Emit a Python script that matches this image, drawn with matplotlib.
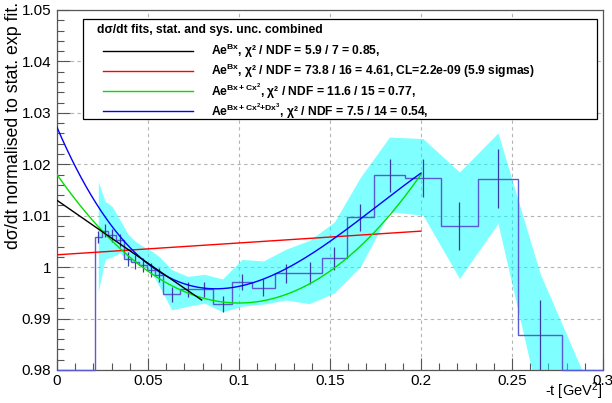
import numpy as np
import matplotlib
matplotlib.use("Agg")
import matplotlib.pyplot as plt
import matplotlib.ticker as ticker
from matplotlib.patches import Rectangle
from matplotlib.lines import Line2D

plt.rcParams["font.family"] = ["Liberation Sans", "DejaVu Sans"]
plt.rcParams["mathtext.fontset"] = "custom"
plt.rcParams["mathtext.rm"] = "Liberation Sans"
plt.rcParams["mathtext.it"] = "Liberation Sans:italic"
plt.rcParams["mathtext.bf"] = "Liberation Sans:bold"

# Гистограмма: границы бинов по -t, значения и стат. ошибки
bin_edges = [0.0209, 0.0245, 0.0283, 0.0324, 0.0368, 0.0409, 0.0453, 0.0497,
             0.0541, 0.0585, 0.0676, 0.0764, 0.0857, 0.0962, 0.1071, 0.1198,
             0.1319, 0.1456, 0.1593, 0.1742, 0.1912, 0.2110, 0.2313, 0.2533,
             0.2775]
bin_values = [1.0059, 1.0071, 1.0062, 1.0052, 1.0016, 1.0010, 1.0004, 0.9995,
              0.9985, 0.9947, 0.9957, 0.9957, 0.9928, 0.9971, 0.9960, 0.9988,
              0.9989, 1.0017, 1.0097, 1.0179, 1.0174, 1.0080, 1.0172, 0.9868]
bin_errors = [0.0012, 0.0013, 0.0013, 0.0013, 0.0013, 0.0013, 0.0014, 0.0014,
              0.0014, 0.0015, 0.0015, 0.0015, 0.0015, 0.0016, 0.0017, 0.0018,
              0.0021, 0.0023, 0.0026, 0.0032, 0.0037, 0.0046, 0.0057, 0.0068]

# Полоса стат.+сист. неопределённости (в центрах бинов + хвост)
band_extra_t = 0.289
band_upper = [1.0166, 1.0128, 1.0118, 1.0092, 1.0065, 1.0050, 1.0040, 1.0032,
              1.0020, 0.9995, 0.9982, 0.9986, 0.9977, 1.0015, 1.0012, 1.0035,
              1.0052, 1.0088, 1.0175, 1.0253, 1.0250, 1.0185, 1.0261, 0.9988,
              0.9795]
band_lower = [0.9952, 1.0015, 1.0020, 1.0028, 1.0013, 1.0008, 1.0003, 0.9990,
              0.9962, 0.9917, 0.9924, 0.9930, 0.9913, 0.9924, 0.9928, 0.9936,
              0.9929, 0.9950, 1.0001, 1.0108, 1.0101, 0.9978, 1.0085, 0.9730,
              0.9600]

# Параметры фитов: A, B, C, D и диапазон
fit_black = dict(p=[1.013, -0.2432, 0.0, 0.0], tmax=0.0795, color="black")
fit_red = dict(p=[1.0024, 0.0229, 0.0, 0.0], tmax=0.2, color="#ff0000")
fit_green = dict(p=[1.018, -0.497, 2.486, 0.0], tmax=0.2, color="#00e000")
fit_blue = dict(p=[1.0272, -0.80076, 6.1132, -11.636], tmax=0.2, color="#0000ff")

legend_header = "dσ/dt fits, stat. and sys. unc. combined"
legend_labels = [
    r"Ae$^{\mathbf{Bx}}$, χ² / NDF = 5.9 / 7 = 0.85,",
    r"Ae$^{\mathbf{Bx}}$, χ² / NDF = 73.8 / 16 = 4.61, CL=2.2e-09 (5.9 sigmas)",
    r"Ae$^{\mathbf{Bx+Cx}^{\mathbf{2}}}$, χ² / NDF = 11.6 / 15 = 0.77,",
    r"Ae$^{\mathbf{Bx+Cx}^{\mathbf{2}}\mathbf{+Dx}^{\mathbf{3}}}$, χ² / NDF = 7.5 / 14 = 0.54,",
]

XMIN, XMAX = 0.0, 0.3
YMIN, YMAX = 0.98, 1.05


def fit_func(t, p):
    a, b, c, d = p
    return a * np.exp(b * t + c * t ** 2 + d * t ** 3)


fig = plt.figure(figsize=(6.12, 4.03), dpi=100)
ax = fig.add_axes([0.0931, 0.0819, 0.8922, 0.8933])

edges = np.array(bin_edges)
centers = 0.5 * (edges[:-1] + edges[1:])

# Сетка
ax.grid(True, which="major", color="#b4b4b4", linestyle=(0, (3, 3)), linewidth=0.8)
ax.set_axisbelow(True)

# Полоса неопределённости
band_t = np.r_[centers, band_extra_t]
ax.fill_between(band_t, band_lower, band_upper, color="#00ffff", alpha=0.5,
                linewidth=0, zorder=2)

# Гистограмма (пустые бины рисуются по нижней рамке, как в ROOT)
full_edges = np.r_[XMIN, edges, XMAX]
full_vals = np.clip(np.r_[0.0, bin_values, 0.0], YMIN, None)
ax.stairs(full_vals, full_edges, baseline=None, color="#5a5ad2", linewidth=1.0,
          zorder=3, clip_on=False)
ax.errorbar(centers, bin_values, yerr=bin_errors, fmt="none", ecolor="#3a3aa8",
            elinewidth=0.9, capsize=0, zorder=3)

# Фиты
for fit in [fit_red, fit_green, fit_blue, fit_black]:
    t = np.linspace(0.0, fit["tmax"], 300)
    ax.plot(t, fit_func(t, fit["p"]), color=fit["color"], linewidth=1.0, zorder=4)

ax.set_xlim(XMIN, XMAX)
ax.set_ylim(YMIN, YMAX)

ax.xaxis.set_major_locator(ticker.MultipleLocator(0.05))
ax.xaxis.set_minor_locator(ticker.MultipleLocator(0.01))
ax.yaxis.set_major_locator(ticker.MultipleLocator(0.01))
ax.yaxis.set_minor_locator(ticker.MultipleLocator(0.002))
ax.xaxis.set_major_formatter(ticker.FormatStrFormatter("%g"))
ax.yaxis.set_major_formatter(ticker.FuncFormatter(lambda v, pos: f"{round(v, 3):g}"))
ax.tick_params(axis="both", which="major", direction="in", length=9, width=0.8,
               labelsize=11, color="#555555")
ax.tick_params(axis="both", which="minor", direction="in", length=5, width=0.8,
               color="#555555")
ax.tick_params(axis="x", which="major", pad=3)
ax.tick_params(axis="y", which="major", pad=4)
for s in ax.spines.values():
    s.set_linewidth(0.9)
    s.set_color("#555555")

ax.set_ylabel("dσ/dt normalised to stat. exp fit.", fontsize=12.8, loc="top")
ax.yaxis.set_label_coords(-0.064, 1.022)
ax.set_xlabel("-t [GeV$^2$]", fontsize=10.5, loc="right")
ax.xaxis.set_label_coords(1.0, -0.03)

# Легенда (рамка и подписи вручную, как в ROOT TLegend)
lx0, lx1 = 0.0476, 0.989
ly0, ly1 = 0.697, 0.975
ax.add_patch(Rectangle((lx0, ly0), lx1 - lx0, ly1 - ly0, transform=ax.transAxes,
                       facecolor="white", edgecolor="black", linewidth=0.9,
                       zorder=6))
ax.text(0.073, 0.945, legend_header, transform=ax.transAxes, fontsize=8.7,
        fontweight="bold", va="center", ha="left", zorder=7)
row_y = [0.885, 0.830, 0.774, 0.719]
colors = [fit_black["color"], fit_red["color"], fit_green["color"], fit_blue["color"]]
for y, lab, c in zip(row_y, legend_labels, colors):
    ax.add_line(Line2D([0.084, 0.25], [y, y], transform=ax.transAxes, color=c,
                       linewidth=1.0, zorder=7))
    ax.text(0.282, y, lab, transform=ax.transAxes, fontsize=8.7, fontweight="bold",
            va="center", ha="left", zorder=7)

fig.savefig("out.png", dpi=100)
